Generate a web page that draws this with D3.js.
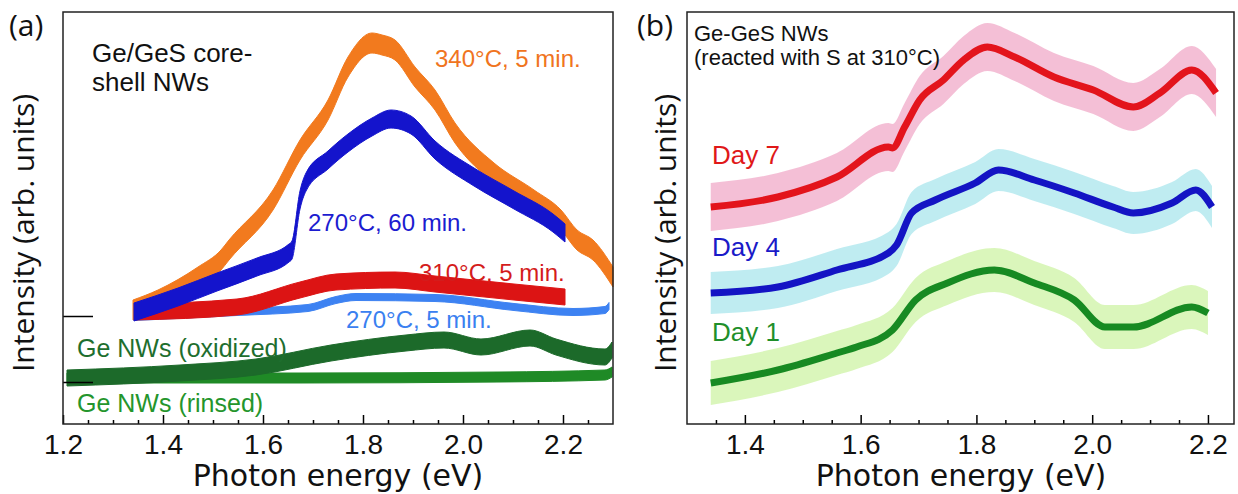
<!DOCTYPE html>
<html><head><meta charset="utf-8">
<script src="https://cdn.jsdelivr.net/npm/d3@7"></script>
<style>body{margin:0;background:#fff} svg{display:block}</style>
</head><body><svg id="c" width="1238" height="494"></svg>
<script>
// ---------- Panel (a) data : photon energy (eV) and intensity (arb. units) ----------
const a340E = [1.34,1.39,1.47,1.516,1.532,1.62,1.674,1.73,1.77,1.818,1.838,1.864,1.904,1.944,1.984,2.062,2.142,2.196,2.228,2.26,2.30];
const a340I = [114,124,147,164,174,224,274,314,357,381,379,374,347,324,291,251,224,204,184,174,147];
const a270_60E = [1.342,1.43,1.508,1.588,1.652,1.658,1.674,1.686,1.73,1.77,1.818,1.856,1.896,1.944,2.022,2.102,2.18,2.204];
const a270_60I = [112,127,142,157,171,174,224,242,264,281,297,305,299,274,247,224,201,191];
const a310E = [1.342,1.548,1.674,1.746,1.864,1.944,2.102,2.204];
const a310I = [112,117,134,142,144,140,132,127];
const a270_5E = [1.342,1.548,1.69,1.746,1.786,1.944,2.102,2.22,2.284,2.292];
const a270_5I = [107,112,116,124,127,126,117,112,114,118];
const aOxE = [1.208,1.434,1.586,1.736,1.886,1.962,2.036,2.134,2.186,2.284,2.298];
const aOxI = [46,51,57,71,81,84,77,86,77,67,74];
const aRinE = [1.208,1.674,2.074,2.284,2.298];
const aRinI = [46,46,47,49,52];
const aTickX = [1.2,1.4,1.6,1.8,2.0,2.2];
const aMinorX = [1.25,1.3,1.35,1.45,1.5,1.55,1.65,1.7,1.75,1.85,1.9,1.95,2.05,2.1,2.15,2.25];
const aTickY = [42,108];

// ---------- Panel (b) data ----------
const bDay7E = [1.341,1.457,1.559,1.648,1.655,1.676,1.702,1.743,1.778,1.819,1.866,1.934,2.002,2.071,2.117,2.172,2.214];
const bDay7I = [217,227,247,277,276,297,324,344,364,377,367,347,334,317,331,354,331];
const bDay4E = [1.341,1.457,1.559,1.648,1.662,1.688,1.729,1.798,1.838,1.9,1.969,2.036,2.071,2.138,2.179,2.207];
const bDay4I = [131,137,154,171,179,211,224,241,254,244,231,217,211,221,234,217];
const bDay1E = [1.341,1.457,1.559,1.593,1.655,1.695,1.75,1.831,1.9,1.969,2.022,2.071,2.172,2.2];
const bDay1I = [41,54,71,77,94,124,141,154,141,124,97,97,117,111];
const bTickX = [1.4,1.6,1.8,2.0,2.2];
const bMinorX = [1.35,1.45,1.5,1.55,1.65,1.7,1.75,1.85,1.9,1.95,2.05,2.1,2.15];

const zip = (E, I) => E.map((e, i) => ({e, v: I[i]}));

const svg = d3.select("#c");
const FONT = "'Liberation Sans', Arial, sans-serif";
const TFONT = "'Open Sans', 'Liberation Sans', sans-serif";
const XFONT = "'DejaVu Sans', sans-serif";

function axes(x, bottom, ticks, minors) {
  const g = svg.append("g");
  const ax = g.append("g").attr("transform", `translate(0,${bottom})`)
    .call(d3.axisBottom(x).tickValues(ticks).tickSize(-9).tickPadding(10).tickFormat(d3.format(".1f")));
  ax.select(".domain").remove();
  ax.selectAll("line").attr("stroke", "#000").attr("stroke-width", 1.5);
  ax.selectAll("text").attr("font-family", FONT).attr("font-size", 28).attr("fill", "#111");
  const mx = g.append("g").attr("transform", `translate(0,${bottom})`)
    .call(d3.axisBottom(x).tickValues(minors).tickSize(-4).tickFormat(""));
  mx.select(".domain").remove();
  mx.selectAll("line").attr("stroke", "#000").attr("stroke-width", 1.5);
  return g;
}

// ---------- Panel (a) ----------
const xA = d3.scaleLinear().domain([1.2, 2.3]).range([63, 613]);
const yA = d3.scaleLinear().domain([0, 412]).range([424, 12]);
const gA = svg.append("g");

const seriesA = [
  {d: zip(aRinE, aRinI), c: "#1f8a26", s: 5},
  {d: zip(aOxE, aOxI), c: "#1c6a2a", s: 8},
  {d: zip(a270_5E, a270_5I), c: "#3d82f2", s: 3.5},
  {d: zip(a310E, a310I), c: "#dc1414", s: 8},
  {d: zip(a340E, a340I), c: "#f27a1e", s: 10},
  {d: zip(a270_60E, a270_60I), c: "#1414cc", s: 9}
];
seriesA.forEach(sr => {
  const area = d3.area().x(d => xA(d.e)).y0(d => yA(d.v - sr.s)).y1(d => yA(d.v + sr.s)).curve(d3.curveMonotoneX);
  gA.append("path").datum(sr.d).attr("d", area).attr("fill", sr.c).attr("stroke", sr.c).attr("stroke-width", 1);
});
axes(xA, 424, aTickX, aMinorX);
const yax = svg.append("g").attr("transform", "translate(63,0)")
  .call(d3.axisRight(yA).tickValues(aTickY).tickSize(30).tickFormat(""));
yax.select(".domain").remove();
yax.selectAll("line").attr("stroke", "#000").attr("stroke-width", 1.5);
svg.append("rect").attr("x", xA.range()[0]).attr("y", yA.range()[1])
  .attr("width", xA.range()[1] - xA.range()[0]).attr("height", yA.range()[0] - yA.range()[1])
  .attr("fill", "none").attr("stroke", "#222").attr("stroke-width", 1.5);

// ---------- Panel (b) ----------
const xB = d3.scaleLinear().domain([1.3, 2.245]).range([687, 1234]);
const yB = d3.scaleLinear().domain([0, 412]).range([424, 12]);
const gB = svg.append("g");
const seriesB = [
  {d: zip(bDay7E, bDay7I), light: "#f3b8d2", dark: "#e3141c", s: 24},
  {d: zip(bDay4E, bDay4I), light: "#b8eaf0", dark: "#1414c4", s: 21},
  {d: zip(bDay1E, bDay1I), light: "#d6f5b4", dark: "#178a22", s: 22}
];
seriesB.forEach(sr => {
  const area = d3.area().x(d => xB(d.e)).y0(d => yB(d.v - sr.s)).y1(d => yB(d.v + sr.s)).curve(d3.curveMonotoneX);
  gB.append("path").datum(sr.d).attr("d", area).attr("fill", sr.light).attr("opacity", 0.9);
});
seriesB.forEach(sr => {
  const line = d3.line().x(d => xB(d.e)).y(d => yB(d.v)).curve(d3.curveMonotoneX);
  gB.append("path").datum(sr.d).attr("d", line).attr("fill", "none").attr("stroke", sr.dark).attr("stroke-width", 7);
});
axes(xB, 424, bTickX, bMinorX);
svg.append("rect").attr("x", xB.range()[0]).attr("y", yB.range()[1])
  .attr("width", xB.range()[1] - xB.range()[0]).attr("height", yB.range()[0] - yB.range()[1])
  .attr("fill", "none").attr("stroke", "#222").attr("stroke-width", 1.5);

// ---------- Text ----------
function txt(x, y, s, size, color, font, extra) {
  const t = svg.append("text").attr("x", x).attr("y", y).text(s)
    .attr("font-size", size).attr("fill", color).attr("font-family", font || FONT);
  if (extra) extra(t);
  return t;
}
txt(9, 36, "(a)", 30, "#111", TFONT);
txt(637, 36, "(b)", 30, "#111", TFONT);
txt(338, 486, "Photon energy (eV)", 30, "#111", XFONT, t => t.attr("text-anchor", "middle"));
txt(961, 486, "Photon energy (eV)", 30, "#111", XFONT, t => t.attr("text-anchor", "middle"));
txt(0, 0, "Intensity (arb. units)", 30, "#111", TFONT, t => t.attr("text-anchor", "middle").attr("transform", "translate(34,233) rotate(-90)"));
txt(0, 0, "Intensity (arb. units)", 30, "#111", TFONT, t => t.attr("text-anchor", "middle").attr("transform", "translate(676,233) rotate(-90)"));

txt(92, 62, "Ge/GeS core-", 26, "#111");
txt(92, 91, "shell NWs", 26, "#111");
txt(435, 67, "340°C, 5 min.", 24, "#f07420");
txt(308, 231, "270°C, 60 min.", 24, "#1c1cd0");
txt(419, 281, "310°C, 5 min.", 24, "#d41c1c");
txt(346, 328, "270°C, 5 min.", 24, "#3a80f0");
txt(77, 357, "Ge NWs (oxidized)", 25, "#1e6e2e");
txt(77, 412, "Ge NWs (rinsed)", 25, "#24952c");

txt(694, 41, "Ge-GeS NWs", 22, "#111");
txt(694, 65, "(reacted with S at 310°C)", 22, "#111");
txt(712, 164, "Day 7", 26, "#e01818");
txt(712, 256, "Day 4", 26, "#1a1ac8");
txt(712, 341, "Day 1", 26, "#1f8f2a");
</script></body></html>
